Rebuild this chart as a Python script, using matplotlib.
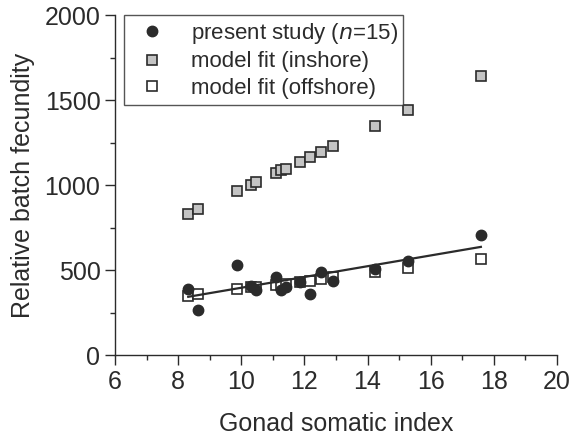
#!/usr/bin/env python3
"""Relative batch fecundity vs gonad somatic index."""

import numpy as np
import matplotlib.pyplot as plt

plt.rcParams['font.family'] = ['Liberation Sans', 'DejaVu Sans']

# present study (n=15)
gsi = [8.32, 8.64, 9.86, 10.31, 10.47, 11.10, 11.25, 11.41,
       11.86, 12.18, 12.53, 12.92, 14.25, 15.28, 17.59]
fec_present = [386, 265, 529, 406, 382, 461, 382, 402,
               427, 359, 486, 437, 506, 555, 706]
# model fits at the same GSI values
fec_inshore = [828, 857, 965, 1000, 1016, 1073, 1088, 1098,
               1137, 1167, 1196, 1231, 1347, 1441, 1641]
fec_offshore = [347, 359, 386, 398, 402, 412, 412, 416,
                427, 437, 445, 457, 486, 510, 565]
# regression line through present study
fit_slope = 31.7
fit_intercept = 79.0

ink = '#2b2b2b'

fig = plt.figure(figsize=(5.73, 4.37), dpi=100)
ax = fig.add_axes([0.2007, 0.1876, 0.7713, 0.7774])

ax.plot(gsi, fec_present, 'o', color=ink, markersize=7.5,
        label='present study ($n$=15)', zorder=3)
ax.plot(gsi, fec_inshore, 's', markerfacecolor='#c4c4c4', markeredgecolor=ink,
        markersize=7, markeredgewidth=1.2, label='model fit (inshore)', zorder=3)
ax.plot(gsi, fec_offshore, 's', markerfacecolor='white', markeredgecolor=ink,
        markersize=7, markeredgewidth=1.2, label='model fit (offshore)', zorder=2)

xfit = np.array([min(gsi), max(gsi)])
ax.plot(xfit, fit_intercept + fit_slope * xfit, '-', color=ink, linewidth=1.6, zorder=4)

ax.set_xlim(6, 20)
ax.set_ylim(0, 2000)
ax.set_xticks(np.arange(6, 21, 2))
ax.set_xticks(np.arange(7, 20, 2), minor=True)
ax.set_yticks(np.arange(0, 2001, 500))
ax.set_yticks(np.arange(250, 2000, 500), minor=True)

for side in ['top', 'right']:
    ax.spines[side].set_visible(False)
for side in ['left', 'bottom']:
    ax.spines[side].set_color(ink)
    ax.spines[side].set_linewidth(1.0)

ax.tick_params(which='both', direction='out', colors=ink, labelcolor=ink,
               labelsize=18, width=1.0)
ax.tick_params(which='major', length=7)
ax.tick_params(which='minor', length=3.5)

ax.set_xlabel('Gonad somatic index', fontsize=18, color=ink, labelpad=13)
ax.set_ylabel('Relative batch fecundity', fontsize=18, color=ink, labelpad=7)

leg = ax.legend(loc='upper left', bbox_to_anchor=(0.02, 1.0), fontsize=16,
                frameon=True, fancybox=False, borderpad=0.25, handletextpad=0.75,
                labelspacing=0.25, handlelength=2.0, borderaxespad=0.0)
leg.get_frame().set_edgecolor(ink)
leg.get_frame().set_linewidth(1.0)
for t in leg.get_texts():
    t.set_color(ink)

fig.savefig('out.png', dpi=100)
